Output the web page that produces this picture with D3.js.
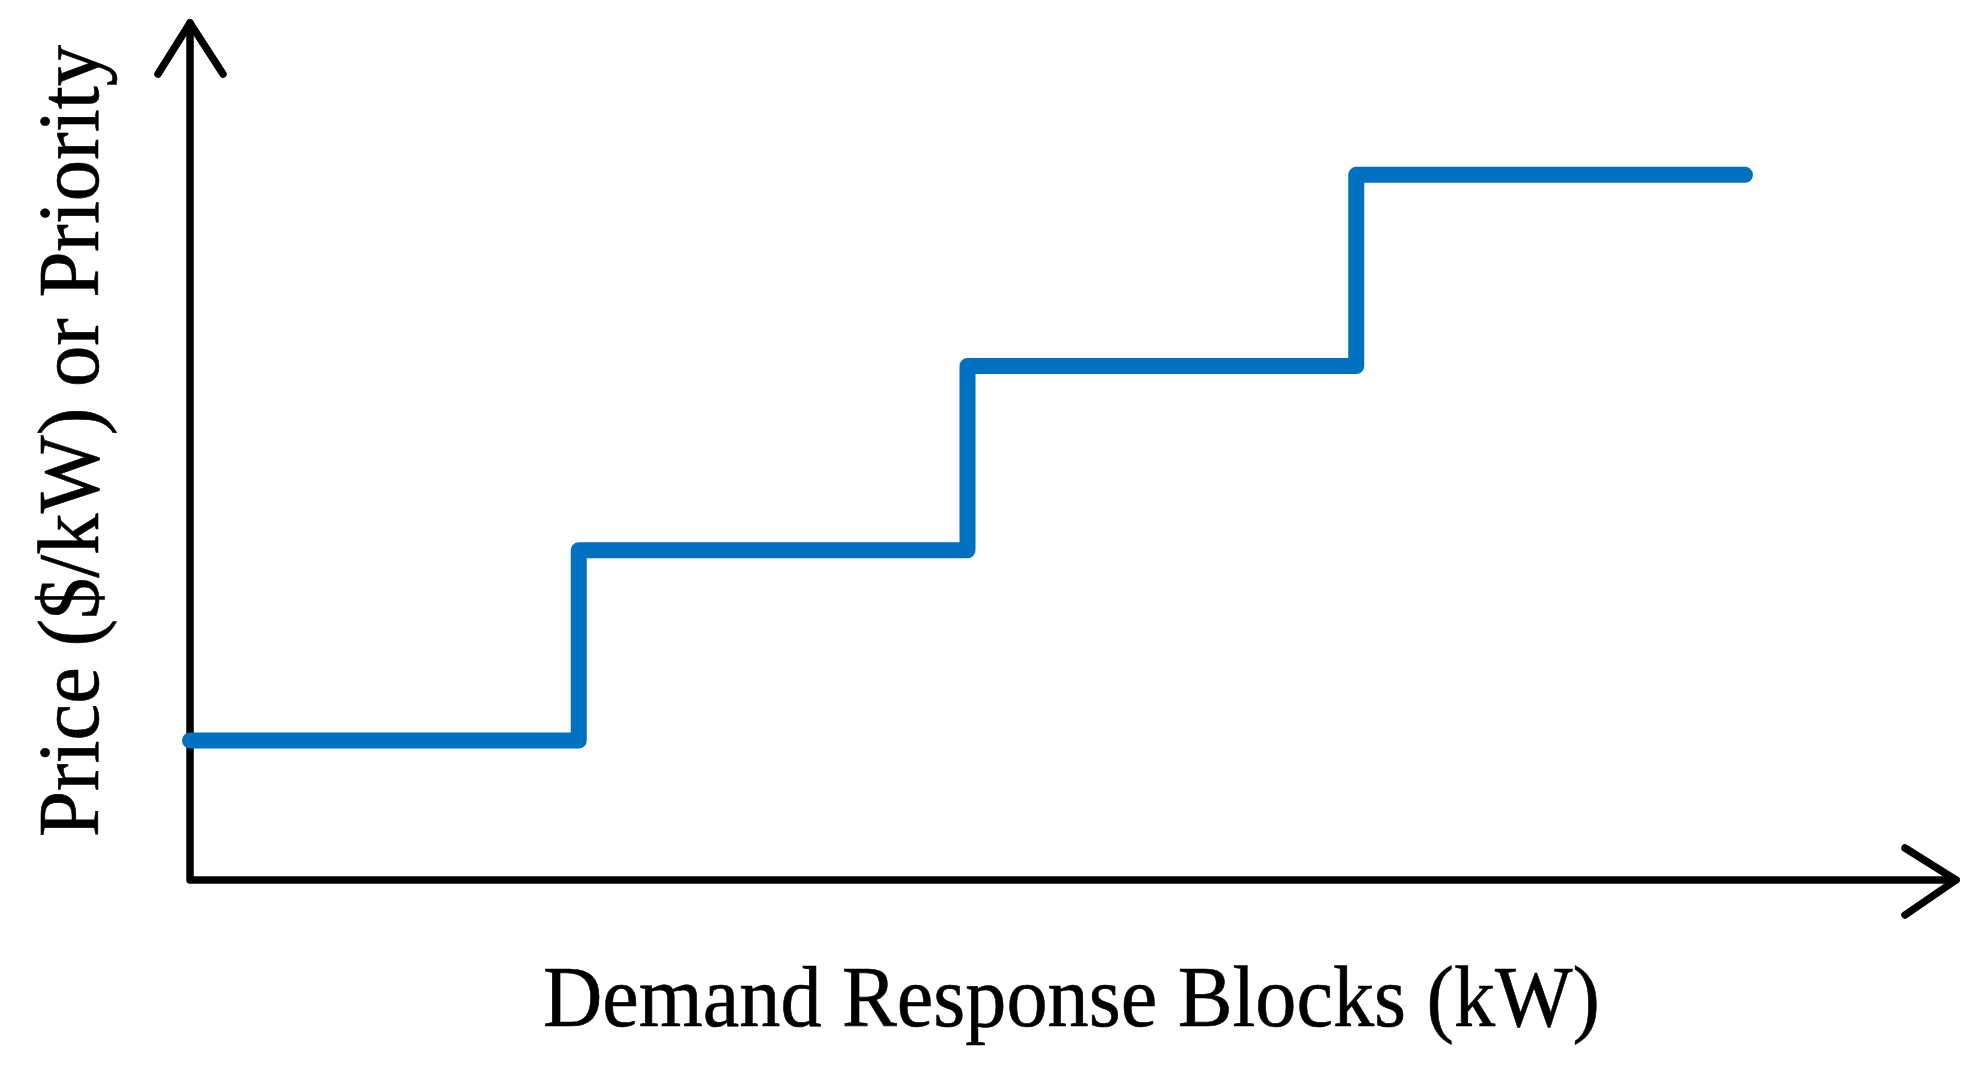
<!DOCTYPE html>
<html>
<head>
<meta charset="utf-8">
<script src="https://cdn.jsdelivr.net/npm/d3@7"></script>
<style>
  html, body { margin: 0; padding: 0; background: #fff; }
  svg { display: block; }
</style>
</head>
<body>
<svg id="chart" width="1965" height="1085"></svg>
<script>
// Data
const blocks = [0, 1, 2, 3, 4];            // block boundaries (kW units)
const prices = [1.62, 3.83, 5.97, 8.19];   // price / priority level per block
const xLabel = "Demand Response Blocks (kW)";
const yLabel = "Price ($/kW) or Priority";

const svg = d3.select("#chart");

const x = d3.scaleLinear().domain([0, 4]).range([190, 1745]);
const y = d3.scaleLinear().domain([0, 10]).range([880, 19]);

const xAxisEnd = x.invert(1956);
const yAxisEnd = y.invert(23);

// Axes
const axisG = svg.append("g")
  .attr("fill", "none")
  .attr("stroke", "#000")
  .attr("stroke-width", 7.5)
  .attr("stroke-linecap", "round")
  .attr("stroke-linejoin", "round");

axisG.append("path")
  .attr("d", d3.line()([[x(0), y(yAxisEnd)], [x(0), y(0)], [x(xAxisEnd), y(0)]]));

// y arrow head
axisG.append("path")
  .attr("d", d3.line()([[x(0) - 32, y(yAxisEnd) + 51], [x(0), y(yAxisEnd)], [x(0) + 33, y(yAxisEnd) + 51]]));

// x arrow head
axisG.append("path")
  .attr("d", d3.line()([[x(xAxisEnd) - 51, y(0) - 32], [x(xAxisEnd), y(0)], [x(xAxisEnd) - 51, y(0) + 35]]));

// Step line
const pts = blocks.map((b, i) => [b, prices[Math.min(i, prices.length - 1)]]);
const line = d3.line()
  .x(d => x(d[0]))
  .y(d => y(d[1]))
  .curve(d3.curveStepAfter);

svg.append("path")
  .datum(pts)
  .attr("d", line)
  .attr("fill", "none")
  .attr("stroke", "#0070C0")
  .attr("stroke-width", 16)
  .attr("stroke-linecap", "round")
  .attr("stroke-linejoin", "round");

// Labels
const fontFamily = "'Liberation Serif', 'Times New Roman', 'DejaVu Serif', serif";

svg.append("text")
  .attr("x", 543)
  .attr("y", 1026)
  .attr("font-family", fontFamily)
  .attr("font-size", 86)
  .attr("fill", "#000")
  .attr("stroke", "#000")
  .attr("stroke-width", 0.6)
  .attr("textLength", 1057)
  .attr("lengthAdjust", "spacingAndGlyphs")
  .text(xLabel);

svg.append("text")
  .attr("transform", "translate(98,837) rotate(-90)")
  .attr("x", 0)
  .attr("y", 0)
  .attr("font-family", fontFamily)
  .attr("font-size", 86)
  .attr("fill", "#000")
  .attr("stroke", "#000")
  .attr("stroke-width", 0.6)
  .attr("textLength", 792)
  .attr("lengthAdjust", "spacingAndGlyphs")
  .text(yLabel);
</script>
</body>
</html>
